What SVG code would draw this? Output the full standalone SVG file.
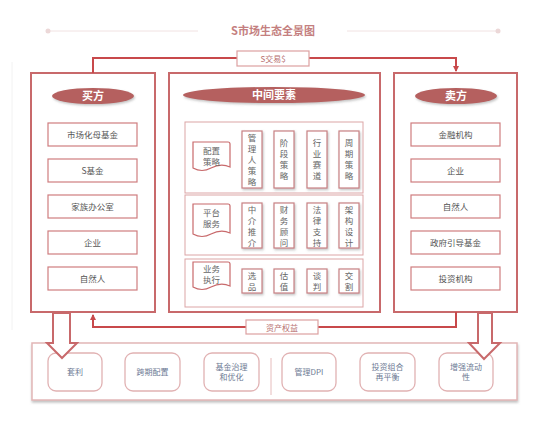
<svg xmlns="http://www.w3.org/2000/svg" width="550" height="422" viewBox="0 0 550 422">
<defs>
<style>
.t{font-family:"Noto Sans CJK SC","Liberation Sans",sans-serif;}
.outer{fill:#fff;stroke:#c8696b;stroke-width:2;}
.item{fill:#fff;stroke:#cf7d7f;stroke-width:1.2;}
.sub{fill:#fff;stroke:#dca5a6;stroke-width:1;}
.vbox{fill:#fff;stroke:#c98184;stroke-width:1.2;filter:url(#sh);}
.ell{fill:#b5605f;filter:url(#sh);}
.elt{font-size:11px;font-weight:bold;fill:#fff;text-anchor:middle;}
.it{font-size:8.5px;fill:#555;text-anchor:middle;}
.vt{font-size:8.5px;fill:#666;text-anchor:middle;}
.bt{font-size:8px;fill:#6d7a94;text-anchor:middle;}
.bi{fill:#fff;stroke:#e1b2b3;stroke-width:1.3;}
.conn{fill:none;stroke:#c8494b;stroke-width:2;}
.hol{fill:#fff;stroke:#c8696b;stroke-width:2;stroke-linejoin:miter;}
.lab{fill:#fff;stroke:#dca0a1;stroke-width:1.2;}
.lt{font-size:8px;fill:#b87070;text-anchor:middle;}
.doc{fill:#fff;stroke:#c8696b;stroke-width:1.2;}
</style>
<filter id="sh" x="-20%" y="-20%" width="140%" height="160%">
<feDropShadow dx="1" dy="1.5" stdDeviation="1" flood-color="#777" flood-opacity="0.45"/>
</filter>
<filter id="sh2" x="-5%" y="-5%" width="110%" height="120%">
<feDropShadow dx="0.5" dy="2" stdDeviation="1.2" flood-color="#888" flood-opacity="0.5"/>
</filter>
<marker id="ah" markerWidth="6" markerHeight="6" refX="5" refY="3" orient="auto" markerUnits="userSpaceOnUse">
<path d="M0,0 L6,3 L0,6 Z" fill="#c8494b"/>
</marker>
</defs>
<rect width="550" height="422" fill="#fff"/>
<line x1="12" y1="62" x2="12" y2="330" stroke="#f2f2f2" stroke-width="1"/>

<g id="title">
<line x1="48" y1="31" x2="198" y2="31" stroke="#f1e2e2" stroke-width="1"/>
<line x1="347" y1="31" x2="498" y2="31" stroke="#f1e2e2" stroke-width="1"/>
<circle cx="48" cy="31" r="2.5" fill="#ecd8d8"/>
<circle cx="498" cy="31" r="2.5" fill="#ecd8d8"/>
<text class="t" x="273" y="35" font-size="11" font-weight="bold" fill="#c47f80" text-anchor="middle">S市场生态全景图</text>
</g>

<g id="buyer">
<rect class="outer" x="31" y="73" width="124" height="239"/>
<ellipse class="ell" cx="93" cy="96" rx="41" ry="8"/>
<text class="t elt" x="93" y="100">买方</text>
<rect class="item" x="48" y="123" width="89" height="23"/><text class="t it" x="92.5" y="137.5">市场化母基金</text>
<rect class="item" x="48" y="159" width="89" height="23"/><text class="t it" x="92.5" y="173.5">S基金</text>
<rect class="item" x="48" y="195" width="89" height="23"/><text class="t it" x="92.5" y="209.5">家族办公室</text>
<rect class="item" x="48" y="231" width="89" height="23"/><text class="t it" x="92.5" y="245.5">企业</text>
<rect class="item" x="48" y="267" width="89" height="23"/><text class="t it" x="92.5" y="281.5">自然人</text>
</g>

<g id="middle">
<rect class="outer" x="169" y="73" width="211" height="239"/>
<ellipse class="ell" cx="274" cy="95" rx="91" ry="8"/>
<text class="t elt" x="274" y="99">中间要素</text>
</g>

<g id="row-config">
<rect class="sub" x="185" y="122" width="178" height="71"/>
<path class="doc" d="M193,142 H228 Q230,142 230,144 V167 Q221,163 211,168 Q202,173 193,168 Z"/>
<text class="t vt" x="211.5" y="154">配置</text>
<text class="t vt" x="211.5" y="165">策略</text>
<rect class="vbox" x="242" y="131" width="20" height="57"/>
<text class="t vt"><tspan x="252" y="141">管</tspan><tspan x="252" y="152">理</tspan><tspan x="252" y="163">人</tspan><tspan x="252" y="174">策</tspan><tspan x="252" y="185">略</tspan></text>
<rect class="vbox" x="274" y="131" width="20" height="57"/>
<text class="t vt"><tspan x="284" y="146">阶</tspan><tspan x="284" y="157">段</tspan><tspan x="284" y="168">策</tspan><tspan x="284" y="179">略</tspan></text>
<rect class="vbox" x="307" y="131" width="20" height="57"/>
<text class="t vt"><tspan x="317" y="146">行</tspan><tspan x="317" y="157">业</tspan><tspan x="317" y="168">赛</tspan><tspan x="317" y="179">道</tspan></text>
<rect class="vbox" x="339" y="131" width="20" height="57"/>
<text class="t vt"><tspan x="349" y="146">周</tspan><tspan x="349" y="157">期</tspan><tspan x="349" y="168">策</tspan><tspan x="349" y="179">略</tspan></text>
</g>

<g id="row-platform">
<rect class="sub" x="185" y="195" width="178" height="60"/>
<path class="doc" d="M193,204 H228 Q230,204 230,206 V233 Q221,229 211,234 Q202,239 193,234 Z"/>
<text class="t vt" x="211.5" y="216">平台</text>
<text class="t vt" x="211.5" y="227">服务</text>
<rect class="vbox" x="242" y="203" width="20" height="45"/>
<text class="t vt"><tspan x="252" y="213">中</tspan><tspan x="252" y="224">介</tspan><tspan x="252" y="235">推</tspan><tspan x="252" y="246">介</tspan></text>
<rect class="vbox" x="274" y="203" width="20" height="45"/>
<text class="t vt"><tspan x="284" y="213">财</tspan><tspan x="284" y="224">务</tspan><tspan x="284" y="235">顾</tspan><tspan x="284" y="246">问</tspan></text>
<rect class="vbox" x="307" y="203" width="20" height="45"/>
<text class="t vt"><tspan x="317" y="213">法</tspan><tspan x="317" y="224">律</tspan><tspan x="317" y="235">支</tspan><tspan x="317" y="246">持</tspan></text>
<rect class="vbox" x="339" y="203" width="20" height="45"/>
<text class="t vt"><tspan x="349" y="213">架</tspan><tspan x="349" y="224">构</tspan><tspan x="349" y="235">设</tspan><tspan x="349" y="246">计</tspan></text>
</g>

<g id="row-exec">
<rect class="sub" x="185" y="259" width="178" height="48"/>
<path class="doc" d="M193,262 H228 Q230,262 230,264 V286 Q221,282 211,287 Q202,292 193,287 Z"/>
<text class="t vt" x="211.5" y="272">业务</text>
<text class="t vt" x="211.5" y="283">执行</text>
<rect class="vbox" x="242" y="269" width="20" height="24"/>
<text class="t vt"><tspan x="252" y="279">选</tspan><tspan x="252" y="290">品</tspan></text>
<rect class="vbox" x="274" y="269" width="20" height="24"/>
<text class="t vt"><tspan x="284" y="279">估</tspan><tspan x="284" y="290">值</tspan></text>
<rect class="vbox" x="307" y="269" width="20" height="24"/>
<text class="t vt"><tspan x="317" y="279">谈</tspan><tspan x="317" y="290">判</tspan></text>
<rect class="vbox" x="339" y="269" width="20" height="24"/>
<text class="t vt"><tspan x="349" y="279">交</tspan><tspan x="349" y="290">割</tspan></text>
</g>

<g id="seller">
<rect class="outer" x="394" y="73" width="123" height="239"/>
<ellipse class="ell" cx="456" cy="96" rx="41" ry="8"/>
<text class="t elt" x="456" y="100">卖方</text>
<rect class="item" x="411" y="123" width="89" height="23"/><text class="t it" x="455.5" y="137.5">金融机构</text>
<rect class="item" x="411" y="159" width="89" height="23"/><text class="t it" x="455.5" y="173.5">企业</text>
<rect class="item" x="411" y="195" width="89" height="23"/><text class="t it" x="455.5" y="209.5">自然人</text>
<rect class="item" x="411" y="231" width="89" height="23"/><text class="t it" x="455.5" y="245.5">政府引导基金</text>
<rect class="item" x="411" y="267" width="89" height="23"/><text class="t it" x="455.5" y="281.5">投资机构</text>
</g>

<g id="outcomes">
<rect x="32" y="343" width="485" height="57" fill="#fff" stroke="#e2b6b7" stroke-width="1.5" filter="url(#sh2)"/>
<rect class="bi" x="48" y="353" width="54" height="38" rx="8"/><text class="t bt" x="75" y="375">套利</text>
<rect class="bi" x="125" y="353" width="55" height="38" rx="8"/><text class="t bt" x="152.5" y="375">跨期配置</text>
<rect class="bi" x="204" y="353" width="55" height="38" rx="8"/><text class="t bt" x="231.5" y="370">基金治理</text><text class="t bt" x="231.5" y="380">和优化</text>
<line x1="271" y1="358" x2="271" y2="395" stroke="#e6bcbc" stroke-width="1"/>
<rect class="bi" x="282" y="353" width="54" height="38" rx="8"/><text class="t bt" x="309" y="375">管理DPI</text>
<rect class="bi" x="360" y="353" width="55" height="38" rx="8"/><text class="t bt" x="387.5" y="370">投资组合</text><text class="t bt" x="387.5" y="380">再平衡</text>
<rect class="bi" x="439" y="353" width="54" height="38" rx="8"/><text class="t bt" x="466" y="370">增强流动</text><text class="t bt" x="466" y="380">性</text>
</g>

<g id="connectors">
<path class="conn" d="M93,73 V58 H456 V71" marker-end="url(#ah)"/>
<path class="conn" d="M456,312 V327 H93 V315" marker-end="url(#ah)"/>
<rect class="lab" x="237" y="51" width="72" height="15"/>
<text class="t lt" x="273" y="61.5">S交易$</text>
<rect class="lab" x="246" y="320" width="72" height="14"/>
<text class="t lt" x="282" y="330.5">资产权益</text>
<path class="hol" d="M53,313 H70 V343 H77 L62,358 L47,343 H53 Z"/>
<path class="hol" d="M478,313 H492 V343 H500 L484,359 L469,343 H478 Z"/>
</g>
</svg>
